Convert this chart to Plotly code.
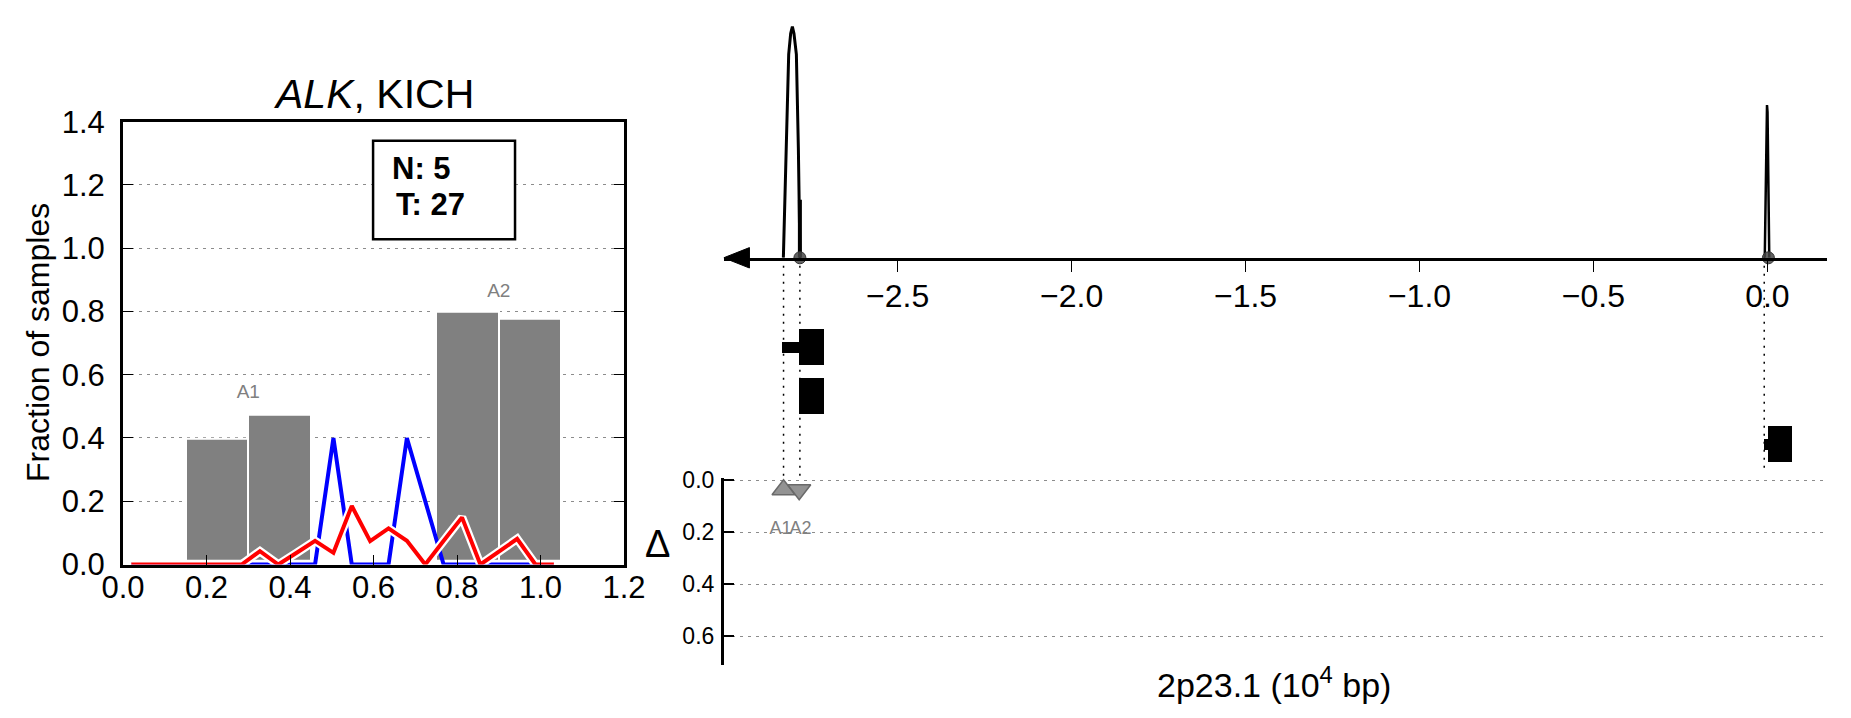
import plotly.graph_objects as go

W, H = 1851, 718
FONT = "Liberation Sans, Arial, sans-serif"

# ---------------- data: left panel ----------------
bar_x = [0.225, 0.375, 0.825, 0.975]
bar_top = [0.397, 0.475, 0.799, 0.777]
bar_base = 0.012
bar_labels = ["A1", "A2"]
bar_label_x = [0.30, 0.90]
bar_label_y = [0.54, 0.86]

line_x = [0.020, 0.064, 0.108, 0.152, 0.196, 0.240, 0.284, 0.328, 0.372, 0.416,
          0.460, 0.504, 0.548, 0.592, 0.636, 0.680, 0.724, 0.768, 0.812, 0.856,
          0.900, 0.944, 0.988, 1.032]
blue_y = [0, 0, 0, 0, 0, 0, 0, 0, 0, 0,
          0, 0.40, 0, 0, 0, 0.40, 0.20, 0, 0, 0,
          0, 0, 0, 0]
red_y = [0, 0, 0, 0, 0, 0, 0, 0.042, 0, 0.037,
         0.075, 0.037, 0.185, 0.074, 0.114, 0.075, 0, 0.075, 0.149, 0,
         0.040, 0.081, 0, 0]
n_text = "N: 5"
t_text = "T: 27"
xticks_left = [0.0, 0.2, 0.4, 0.6, 0.8, 1.0, 1.2]
yticks_left = [0.0, 0.2, 0.4, 0.6, 0.8, 1.0, 1.2, 1.4]

# ---------------- data: right panel ----------------
peak1_x = [-2.8285, -2.8210, -2.8132, -2.8075, -2.8026, -2.7980, -2.7911, -2.7854, -2.7825, -2.7807]
peak1_y = [0.0, 0.475, 0.88, 0.97, 1.0, 0.97, 0.88, 0.475, 0.25, 0.0]
peak2_x = [-0.0075, -0.0045, -0.0025, -0.0010, 0.0005, 0.0025, 0.0055]
peak2_y = [0.0, 0.45, 0.63, 0.661, 0.63, 0.45, 0.0]
spike_x = [-2.781, -2.781]
spike_y = [0.0, 0.251]
site_x = [-2.781, 0.003]
connector_x = [-2.828, -2.781, -0.009]

exon_row = [0, 1, 2]
exon_start = [-2.784, -2.784, 0.001]
exon_end = [-2.714, -2.714, 0.071]
utr_row = [0, 2]
utr_start = [-2.832, -0.011]
utr_end = [-2.781, 0.001]

bp_names = ["A1", "A2"]
bp_x = [-2.828, -2.783]
bp_delta = [0.037, 0.037]
bp_symbol = ["triangle-up", "triangle-down"]

xticks_right = [-2.5, -2.0, -1.5, -1.0, -0.5, 0.0]
dticks = [0.0, 0.2, 0.4, 0.6]


def px_x(p):
    return p / W


def px_y(p):
    return 1 - p / H


fig = go.Figure()

# ---- left panel ----
fig.add_trace(go.Bar(
    x=bar_x, y=[t - bar_base for t in bar_top], base=bar_base, width=0.15,
    marker=dict(color="#808080", line=dict(color="white", width=2)),
    xaxis="x", yaxis="y", showlegend=False, hoverinfo="skip"))
fig.add_trace(go.Scatter(
    x=bar_label_x, y=bar_label_y, mode="text", text=bar_labels,
    textfont=dict(family=FONT, size=19, color="#808080"),
    xaxis="x", yaxis="y", showlegend=False, hoverinfo="skip"))
fig.add_trace(go.Scatter(
    x=line_x, y=blue_y, mode="lines", line=dict(color="#0000ff", width=4),
    xaxis="x", yaxis="y", showlegend=False, hoverinfo="skip"))
fig.add_trace(go.Scatter(
    x=line_x, y=red_y, mode="lines", line=dict(color="white", width=8.5),
    xaxis="x", yaxis="y", showlegend=False, hoverinfo="skip"))
fig.add_trace(go.Scatter(
    x=line_x, y=red_y, mode="lines", line=dict(color="#ff0000", width=4),
    xaxis="x", yaxis="y", showlegend=False, hoverinfo="skip"))

# ---- right panel: density / axis ----
fig.add_trace(go.Scatter(
    x=peak1_x, y=peak1_y, mode="lines", line=dict(color="black", width=3),
    xaxis="x2", yaxis="y2", showlegend=False, hoverinfo="skip"))
fig.add_trace(go.Scatter(
    x=peak2_x, y=peak2_y, mode="lines", line=dict(color="black", width=2.5),
    xaxis="x2", yaxis="y2", showlegend=False, hoverinfo="skip"))
fig.add_trace(go.Scatter(
    x=spike_x, y=spike_y, mode="lines", line=dict(color="black", width=4),
    xaxis="x2", yaxis="y2", showlegend=False, hoverinfo="skip"))
fig.add_trace(go.Scatter(
    x=site_x, y=[0] * len(site_x), mode="markers",
    marker=dict(color="rgba(70,70,70,0.85)", size=12, line=dict(color="#333", width=1)),
    cliponaxis=False, xaxis="x2", yaxis="y2", showlegend=False, hoverinfo="skip"))

# ---- gene track ----
fig.add_trace(go.Bar(
    y=utr_row, x=[e - s for s, e in zip(utr_start, utr_end)], base=utr_start,
    orientation="h", width=0.23, marker=dict(color="black", line=dict(width=0)),
    xaxis="x2", yaxis="y3", showlegend=False, hoverinfo="skip"))
fig.add_trace(go.Bar(
    y=exon_row, x=[e - s for s, e in zip(exon_start, exon_end)], base=exon_start,
    orientation="h", width=0.74, marker=dict(color="black", line=dict(width=0)),
    xaxis="x2", yaxis="y3", showlegend=False, hoverinfo="skip"))

# ---- delta track ----
fig.add_trace(go.Scatter(
    x=bp_x, y=bp_delta, mode="markers",
    marker=dict(symbol=bp_symbol, size=20, color="rgba(128,128,128,0.85)",
                line=dict(color="#6a6a6a", width=1.5)),
    cliponaxis=False, xaxis="x2", yaxis="y4", showlegend=False, hoverinfo="skip"))
fig.add_trace(go.Scatter(
    x=[-2.837, -2.779], y=[d + 0.154 for d in bp_delta], mode="text", text=bp_names,
    textfont=dict(family=FONT, size=18, color="#808080"),
    cliponaxis=False, xaxis="x2", yaxis="y4", showlegend=False, hoverinfo="skip"))

# ---------------- layout ----------------
left_x0, left_x1 = 123.0, 624.0
left_y0, left_y1 = 121.7, 564.5
r_x0, r_x1 = 723.7, 1826.5
axis_py = 257.8
xr_right = [-3.0, 0.17]

grid = dict(showgrid=True, gridcolor="#8c8c8c", griddash="3px,5px", gridwidth=1)

fig.update_layout(
    width=W, height=H, autosize=False,
    margin=dict(l=0, r=0, t=0, b=0, autoexpand=False),
    paper_bgcolor="white", plot_bgcolor="rgba(0,0,0,0)",
    barmode="overlay", bargap=0,
    font=dict(family=FONT, color="black"),
    xaxis=dict(domain=[px_x(left_x0), px_x(left_x1)], range=[0, 1.2], anchor="y",
               tickvals=xticks_left, tickformat=".1f", ticks="inside", ticklen=10,
               tickwidth=1.2, tickcolor="black", showline=True, linewidth=3,
               linecolor="black", mirror=True, showgrid=False, zeroline=False,
               tickfont=dict(size=31), automargin=False, ticklabelstandoff=-7),
    yaxis=dict(domain=[px_y(left_y1), px_y(left_y0)], range=[0, 1.4], anchor="x",
               tickvals=yticks_left, tickformat=".1f", ticks="inside", ticklen=10,
               tickwidth=1.2, tickcolor="black", showline=True, linewidth=3,
               linecolor="black", mirror="ticks", zeroline=False,
               tickfont=dict(size=31), automargin=False, ticklabelstandoff=9, **grid),
    xaxis2=dict(domain=[px_x(r_x0), px_x(r_x1)], range=xr_right, anchor="y2",
                tickvals=xticks_right, tickformat=".1f", ticks="outside", ticklen=11,
                tickwidth=1.2, tickcolor="black", showline=True, linewidth=2.5,
                linecolor="black", showgrid=False, zeroline=False,
                tickfont=dict(size=32), automargin=False, ticklabelstandoff=-3),
    yaxis2=dict(domain=[px_y(axis_py), px_y(15)], range=[0, (axis_py - 15) / 231.2],
                anchor="x2", visible=False, automargin=False),
    yaxis3=dict(domain=[px_y(468.25), px_y(322.75)], range=[2.5, -0.5],
                anchor="x2", visible=False, automargin=False),
    yaxis4=dict(domain=[px_y(665), px_y(477.5)], range=[0.71, -0.01], anchor="x2",
                tickvals=dticks, tickformat=".1f", ticks="inside", ticklen=11,
                tickwidth=1.5, tickcolor="black", showline=True, linewidth=2.5,
                linecolor="black", zeroline=False, tickfont=dict(size=23),
                automargin=False, ticklabelstandoff=2, **grid),
)

shapes = []
# N/T box
shapes.append(dict(type="rect", xref="x", yref="y", x0=0.599, x1=0.939, y0=1.028, y1=1.340,
                   line=dict(color="black", width=2.5), fillcolor="white", layer="above"))
# strand arrow at axis start
ay = px_y(axis_py)
hh = 10.2 / H
shapes.append(dict(type="path", xref="x2", yref="paper",
                   path=f"M {xr_right[0]},{ay} L {xr_right[0] + 0.074},{ay + hh} "
                        f"L {xr_right[0] + 0.074},{ay - hh} Z",
                   fillcolor="black", line=dict(color="black", width=1)))
# dotted connectors
for cx, yend in zip(connector_x, [480, 480, 470]):
    shapes.append(dict(type="line", xref="x2", yref="paper", x0=cx, x1=cx,
                       y0=px_y(axis_py), y1=px_y(yend),
                       line=dict(color="black", width=1.5, dash="2px,6px")))
fig.update_layout(shapes=shapes)

annotations = [
    dict(text="<i>ALK</i>, KICH", x=px_x(373), y=px_y(94), xref="paper", yref="paper",
         showarrow=False, font=dict(size=41), xanchor="center", yanchor="middle"),
    dict(text="Fraction of samples", x=px_x(38), y=px_y(343), xref="paper", yref="paper",
         showarrow=False, textangle=-90, font=dict(size=32), xanchor="center", yanchor="middle"),
    dict(text=f"<b>{n_text}</b>", x=0.639, y=1.251, xref="x", yref="y",
         showarrow=False, xanchor="left", yanchor="middle", font=dict(size=31)),
    dict(text=f"<b>{t_text}</b>", x=0.648, y=1.137, xref="x", yref="y",
         showarrow=False, xanchor="left", yanchor="middle", font=dict(size=31)),
    dict(text="Δ", x=px_x(657), y=px_y(544), xref="paper", yref="paper",
         showarrow=False, font=dict(size=38), xanchor="center", yanchor="middle"),
    dict(text="2p23.1 (10<sup>4</sup> bp)", x=px_x(1274), y=px_y(682), xref="paper", yref="paper",
         showarrow=False, font=dict(size=34), xanchor="center", yanchor="middle"),
]
fig.update_layout(annotations=annotations)

fig.write_html(
    "out.html",
    config={"displayModeBar": False},
    post_script="document.body.style.margin='0';document.body.style.overflow='hidden';",
)
